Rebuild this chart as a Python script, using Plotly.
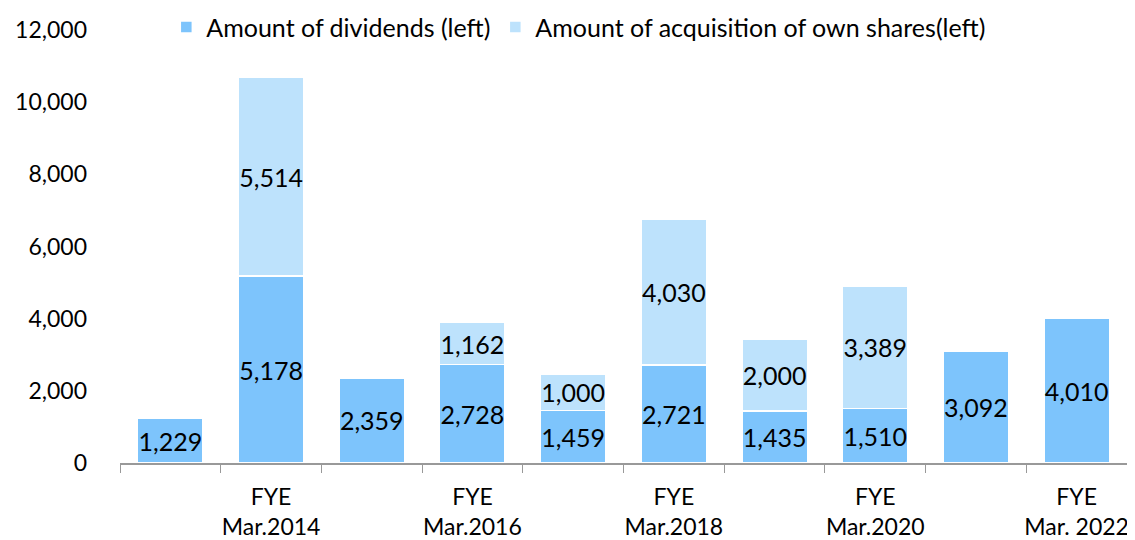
import plotly.graph_objects as go

years = ["FYE Mar.2013", "FYE Mar.2014", "FYE Mar.2015", "FYE Mar.2016", "FYE Mar.2017",
         "FYE Mar.2018", "FYE Mar.2019", "FYE Mar.2020", "FYE Mar.2021", "FYE Mar.2022"]
tick_labels = ["", "FYE<br>Mar.2014", "", "FYE<br>Mar.2016", "", "FYE<br>Mar.2018", "",
               "FYE<br>Mar.2020", "", "FYE<br>Mar. 2022"]
dividends = [1229, 5178, 2359, 2728, 1459, 2721, 1435, 1510, 3092, 4010]
acquisition = [None, 5514, None, 1162, 1000, 4030, 2000, 3389, None, None]

FONT = "Lato, Open Sans, sans-serif"

def fmt(v):
    return "" if v is None else f"{v:,}"

fig = go.Figure()
fig.add_trace(go.Bar(
    x=years, y=dividends, name="Amount of dividends (left)",
    marker=dict(color="#7DC4FC", line=dict(color="white", width=1.5)),
    text=[fmt(v) for v in dividends], textposition="inside", insidetextanchor="middle",
    textangle=0, constraintext="none",
    textfont=dict(color="black", size=25, family=FONT),
))
fig.add_trace(go.Bar(
    x=years, y=acquisition, name="Amount of acquisition of own shares(left)",
    marker=dict(color="#BDE2FC", line=dict(color="white", width=1.5)),
    text=[fmt(v) for v in acquisition], textposition="inside", insidetextanchor="middle",
    textangle=0, constraintext="none",
    textfont=dict(color="black", size=25, family=FONT),
))

fig.update_layout(
    barmode="stack", bargap=0.35,
    width=1127, height=532,
    margin=dict(l=112, r=8, t=22, b=77, autoexpand=False),
    plot_bgcolor="white", paper_bgcolor="white",
    font=dict(family=FONT, size=23, color="black"),
    legend=dict(orientation="h", x=0.046, xref="paper", y=0.964, yref="container",
                xanchor="left", yanchor="middle", bgcolor="rgba(0,0,0,0)",
                font=dict(size=25), traceorder="normal", itemclick=False, itemwidth=30),
    showlegend=True,
)
fig.update_xaxes(
    type="category", tickmode="array", tickvals=years, ticktext=tick_labels,
    tickson="boundaries", ticks="outside", ticklen=8, tickcolor="#999999",
    showline=True, linecolor="#999999", linewidth=1.5, showgrid=False,
    tickfont=dict(size=23), tickangle=0, automargin=False, ticklabelstandoff=13,
)
fig.update_yaxes(
    range=[0, 12000], dtick=2000, tickformat=",", showgrid=False, zeroline=False,
    showline=False, ticks="", tickfont=dict(size=23), ticklabelstandoff=32,
    automargin=False,
)
fig.write_html("out.html")
